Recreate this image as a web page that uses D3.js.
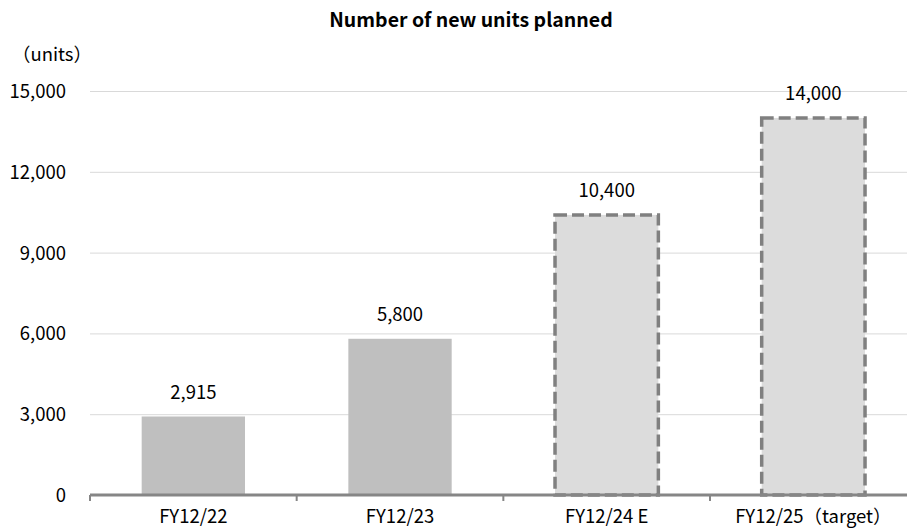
<!DOCTYPE html>
<html>
<head>
<meta charset="utf-8">
<script src="https://cdn.jsdelivr.net/npm/d3@7"></script>
<style>
  body { margin: 0; background: #fff; }
  svg text { font-family: "Noto Sans CJK JP", "Noto Sans", sans-serif; fill: #000; }
</style>
</head>
<body>
<div id="chart"></div>
<script>
// ==== Data ====
const categories = ["FY12/22", "FY12/23", "FY12/24 E", "FY12/25（target）"];
const units = [2915, 5800, 10400, 14000];
const isPlan = [false, false, true, true];
const yTicks = [0, 3000, 6000, 9000, 12000, 15000];

// ==== Setup ====
const W = 907, H = 529;
const plotLeft = 90, plotRight = 916.7;
const plotTop = 91, plotBottom = 495;
const fs = 18.5;

const svg = d3.select("#chart")
    .append("svg")
    .attr("width", W)
    .attr("height", H);

const xScale = d3.scaleBand()
    .domain(categories)
    .range([plotLeft, plotRight])
    .paddingInner(0.5)
    .paddingOuter(0.25);

const yScale = d3.scaleLinear()
    .domain([0, 15000])
    .range([plotBottom, plotTop]);

// ==== Gridlines + y labels ====
const yAxis = d3.axisLeft(yScale)
    .tickValues(yTicks)
    .tickFormat(d3.format(","))
    .tickSize(-(W - plotLeft))
    .tickPadding(24);

svg.append("g")
    .attr("class", "y-axis")
    .attr("transform", `translate(${plotLeft},0)`)
    .call(yAxis)
    .call(g => g.select(".domain").remove())
    .call(g => g.selectAll("line").attr("stroke", "#d9d9d9").attr("stroke-width", 1))
    .call(g => g.selectAll("text").attr("font-size", fs).attr("dy", "0.35em"));

// ==== Bars ====
svg.selectAll(".bar")
    .data(categories)
    .join("rect")
    .attr("class", "bar")
    .attr("x", d => xScale(d))
    .attr("width", xScale.bandwidth())
    .attr("y", (d, i) => yScale(units[i]))
    .attr("height", (d, i) => plotBottom - yScale(units[i]))
    .attr("fill", (d, i) => isPlan[i] ? "#dcdcdc" : "#bfbfbf")
    .attr("stroke", (d, i) => isPlan[i] ? "#808080" : "none")
    .attr("stroke-width", 3.5)
    .attr("stroke-dasharray", "12,5");

// value labels
svg.selectAll(".val")
    .data(categories)
    .join("text")
    .attr("class", "val")
    .attr("x", d => xScale(d) + xScale.bandwidth() / 2)
    .attr("y", (d, i) => yScale(units[i]) - 24)
    .attr("dy", "0.35em")
    .attr("text-anchor", "middle")
    .attr("font-size", fs)
    .text((d, i) => d3.format(",")(units[i]));

// ==== X axis ====
const step = xScale.step();
svg.append("line")
    .attr("x1", plotLeft).attr("x2", W)
    .attr("y1", plotBottom).attr("y2", plotBottom)
    .attr("stroke", "#868686")
    .attr("stroke-width", 3);

svg.selectAll(".xtick")
    .data(d3.range(categories.length))
    .join("line")
    .attr("class", "xtick")
    .attr("x1", i => plotLeft + i * step)
    .attr("x2", i => plotLeft + i * step)
    .attr("y1", plotBottom)
    .attr("y2", plotBottom + 6)
    .attr("stroke", "#868686")
    .attr("stroke-width", 2);

svg.selectAll(".xlab")
    .data(categories)
    .join("text")
    .attr("class", "xlab")
    .attr("x", d => xScale(d) + xScale.bandwidth() / 2)
    .attr("y", 517)
    .attr("dy", "0.35em")
    .attr("text-anchor", "middle")
    .attr("font-size", fs)
    .text(d => d);

// ==== Titles ====
svg.append("text")
    .attr("x", 471)
    .attr("y", 20)
    .attr("dy", "0.35em")
    .attr("text-anchor", "middle")
    .attr("font-size", 19.5)
    .attr("font-weight", "bold")
    .text("Number of new units planned");

svg.append("text")
    .attr("x", 52)
    .attr("y", 55)
    .attr("dy", "0.35em")
    .attr("text-anchor", "middle")
    .attr("font-size", fs)
    .text("（units）");
</script>
</body>
</html>
